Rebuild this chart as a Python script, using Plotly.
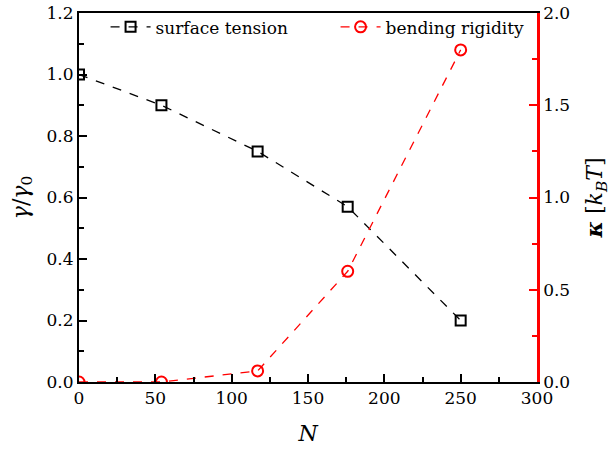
import plotly.graph_objects as go

N = [0, 54, 117, 176, 250]
surface_tension = [1.0, 0.9, 0.75, 0.57, 0.2]
bending_rigidity = [0.0, 0.0, 0.06, 0.6, 1.8]

FONT = "DejaVu Serif"

fig = go.Figure()
fig.add_trace(go.Scatter(
    x=N, y=surface_tension, name="surface tension", mode="lines+markers",
    line=dict(color="black", dash="dash", width=1.3),
    marker=dict(symbol="square-open", size=10, color="black", line=dict(width=2)),
))
fig.add_trace(go.Scatter(
    x=N, y=bending_rigidity, name="bending rigidity", mode="lines+markers",
    line=dict(color="red", dash="dash", width=1.3),
    marker=dict(symbol="circle-open", size=11, color="red", line=dict(width=2)),
    yaxis="y2",
))

fig.update_layout(
    width=611, height=455,
    margin=dict(l=79, r=74, t=13, b=73, autoexpand=False),
    paper_bgcolor="white", plot_bgcolor="white",
    font=dict(family=FONT, size=17, color="black"),
    showlegend=True,
    legend=dict(orientation="h", x=0.058, y=1.01, xanchor="left", yanchor="top",
                bgcolor="rgba(0,0,0,0)", font=dict(family=FONT, size=17), entrywidth=175,
                itemwidth=40, tracegroupgap=0),
    xaxis=dict(
        range=[0, 300], dtick=50, showgrid=False, zeroline=False, automargin=False,
        showline=True, linecolor="black", linewidth=2, mirror=True,
        ticks="inside", ticklen=8, tickwidth=2, tickcolor="black",
        minor=dict(ticks="inside", dtick=25, ticklen=5, tickwidth=2, tickcolor="black"),
        title=dict(text="<i>N</i>", font=dict(family=FONT, size=22), standoff=18),
    ),
    yaxis=dict(
        range=[0, 1.2], dtick=0.2, tickformat=".1f", showgrid=False, zeroline=False, automargin=False,
        showline=True, linecolor="black", linewidth=2,
        ticks="inside", ticklen=8, tickwidth=2, tickcolor="black",
        minor=dict(ticks="inside", dtick=0.1, ticklen=5, tickwidth=2, tickcolor="black"),
        title=dict(text="<i>γ</i>/<i>γ</i><sub>0</sub>", font=dict(family=FONT, size=22), standoff=12),
    ),
    yaxis2=dict(
        range=[0, 2.0], dtick=0.5, tickformat=".1f", overlaying="y", side="right",
        showgrid=False, zeroline=False, automargin=False,
        showline=True, linecolor="red", linewidth=2.5,
        ticks="inside", ticklen=8, tickwidth=2, tickcolor="red",
        minor=dict(ticks="inside", dtick=0.25, ticklen=5, tickwidth=2, tickcolor="red"),
        title=dict(text="<b><i>κ</i></b> [<i>k</i><sub><i>B</i></sub><i>T</i>]", font=dict(family=FONT, size=22), standoff=18),
    ),
)

fig.write_html("out.html", config={"displayModeBar": False},
               post_script="document.body.style.margin='0';")
